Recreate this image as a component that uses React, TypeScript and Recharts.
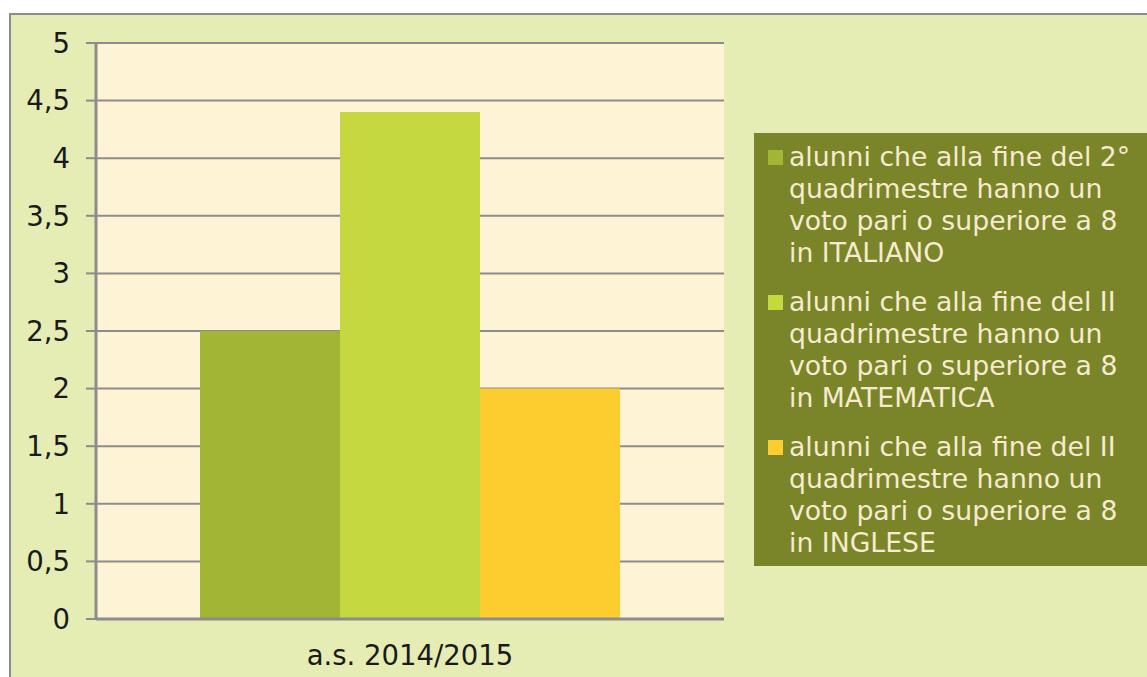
import React from "react";
import { BarChart, Bar, XAxis, YAxis, CartesianGrid } from "recharts";

const categories = ["a.s. 2014/2015"];
const seriesNames = [
  "alunni che alla fine del 2° quadrimestre hanno un voto pari o superiore a 8 in ITALIANO",
  "alunni che alla fine del II quadrimestre hanno un voto pari o superiore a 8 in MATEMATICA",
  "alunni che alla fine del II quadrimestre hanno un voto pari o superiore a 8 in INGLESE",
];
const legendLines = [
  ["alunni che alla fine del 2°", "quadrimestre hanno un", "voto pari o superiore a 8", "in ITALIANO"],
  ["alunni che alla fine del II", "quadrimestre hanno un", "voto pari o superiore a 8", "in MATEMATICA"],
  ["alunni che alla fine del II", "quadrimestre hanno un", "voto pari o superiore a 8", "in INGLESE"],
];
const italianoValues = [2.5];
const matematicaValues = [4.4];
const ingleseValues = [2.0];
const seriesKeys = ["italiano", "matematica", "inglese"];
const seriesColors = ["#a2b534", "#c5d840", "#fdcd30"];
const yTicks = [0, 0.5, 1, 1.5, 2, 2.5, 3, 3.5, 4, 4.5, 5];
const edgeTicks = [0, 1];

const data = categories.map((c, i) => ({
  name: c,
  italiano: italianoValues[i],
  matematica: matematicaValues[i],
  inglese: ingleseValues[i],
}));

const FONT = "'DejaVu Sans', Verdana, sans-serif";
const GRAY = "#8c8c8c";

export default function App() {
  return (
    <div style={{ position: "fixed", left: 0, top: 0, width: 1147, height: 677, overflow: "hidden", background: "#fff" }}>
      <div
        style={{
          position: "absolute",
          left: 9,
          top: 13,
          width: 1200,
          height: 720,
          border: `2px solid ${GRAY}`,
          background: "#e5edb4",
        }}
      />
      <div style={{ position: "absolute", left: 0, top: 0 }}>
        <BarChart
          width={1147}
          height={677}
          data={data}
          margin={{ top: 43, right: 423, bottom: 8, left: 36 }}
          barCategoryGap={104}
          barGap={0}
        >
          <CartesianGrid horizontal vertical={false} stroke={GRAY} strokeWidth={2} fill="#fef3d5" fillOpacity={1} />
          <XAxis
            xAxisId="edges"
            type="number"
            domain={[0, 1]}
            ticks={edgeTicks}
            height={0}
            axisLine={false}
            tick={false}
            tickLine={{ stroke: GRAY, strokeWidth: 3 }}
            tickSize={9}
          />
          <XAxis
            dataKey="name"
            height={50}
            axisLine={{ stroke: GRAY, strokeWidth: 3 }}
            tickLine={false}
            tickSize={0}
            tickMargin={26}
            tick={{ fontSize: 27.5, fill: "#1a1a1a", fontFamily: FONT }}
          />
          <YAxis
            width={60}
            domain={[0, 5]}
            ticks={yTicks}
            interval={0}
            tickFormatter={(v: number) => String(v).replace(".", ",")}
            axisLine={{ stroke: GRAY, strokeWidth: 3 }}
            tickLine={{ stroke: GRAY, strokeWidth: 2 }}
            tickSize={10}
            tickMargin={16}
            tick={{ fontSize: 27.5, fill: "#1a1a1a", fontFamily: FONT }}
          />
          {seriesKeys.map((k, i) => (
            <Bar key={k} dataKey={k} name={seriesNames[i]} fill={seriesColors[i]} isAnimationActive={false} />
          ))}
        </BarChart>
      </div>
      <div
        style={{
          position: "absolute",
          left: 754,
          top: 133,
          width: 420,
          height: 433,
          background: "#7a8428",
          boxSizing: "border-box",
          paddingTop: 8,
          fontFamily: FONT,
          fontSize: 26.7,
          lineHeight: "32px",
          color: "#f6ebcf",
        }}
      >
        {legendLines.map((lines, i) => (
          <div key={i} style={{ position: "relative", paddingLeft: 35, marginBottom: 17 }}>
            <div
              style={{
                position: "absolute",
                left: 14,
                top: 9,
                width: 15,
                height: 15,
                background: seriesColors[i],
              }}
            />
            {lines.map((l, j) => (
              <div key={j} style={{ whiteSpace: "nowrap" }}>{l}</div>
            ))}
          </div>
        ))}
      </div>
    </div>
  );
}
